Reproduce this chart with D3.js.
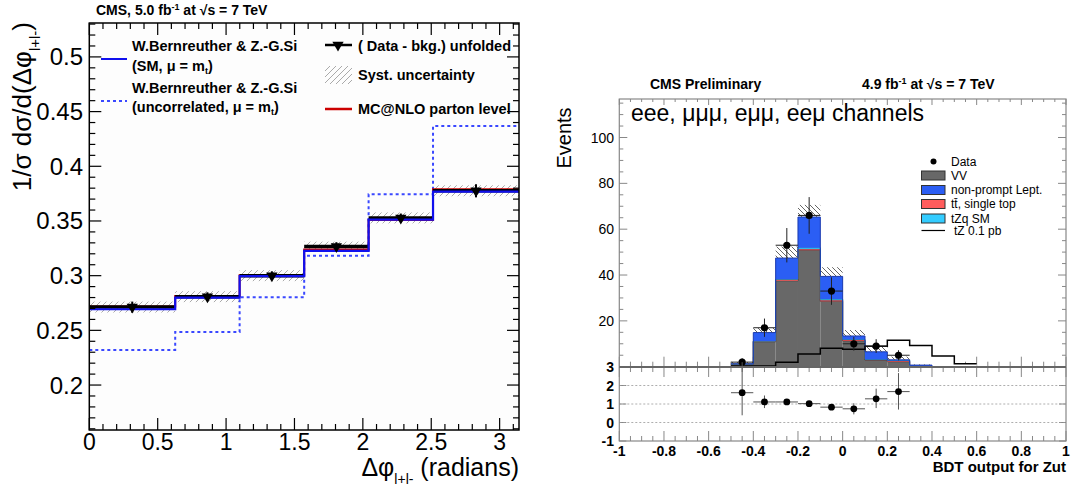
<!DOCTYPE html>
<html><head><meta charset="utf-8">
<script src="https://cdn.jsdelivr.net/npm/d3@7"></script>
<style>
body{margin:0;background:#fff;}
svg{display:block;font-family:"Liberation Sans",Arial,Helvetica,sans-serif;}
</style></head><body>
<svg id="c" width="1073" height="496"></svg>
<script>
// ===== Left panel data (Δφ of leptons) =====
const phiEdges = [0, 0.628, 1.099, 1.571, 2.042, 2.513, 3.1416];
const dataUnfolded = [0.2713, 0.2808, 0.3000, 0.3266, 0.3528, 0.3776];
const dataStatErr = [0.005, 0.004, 0.004, 0.004, 0.004, 0.006];
const dataSystErr = [0.005, 0.005, 0.005, 0.0045, 0.005, 0.005];
const smCorrelated = [0.2693, 0.2800, 0.2995, 0.3226, 0.3513, 0.3769];
const smUncorrelated = [0.2321, 0.2485, 0.2802, 0.3183, 0.3744, 0.4369];
const mcAtNlo = [0.2718, 0.2815, 0.3004, 0.3240, 0.3508, 0.3790];
const leftYTicks = [0.2, 0.25, 0.3, 0.35, 0.4, 0.45, 0.5];
const leftYLabels = ["0.2", "0.25", "0.3", "0.35", "0.4", "0.45", "0.5"];
const leftXTicks = [0, 0.5, 1, 1.5, 2, 2.5, 3];
const leftXLabels = ["0", "0.5", "1", "1.5", "2", "2.5", "3"];

// ===== Right panel data (BDT output) =====
const bdtEdges = [-0.5, -0.4, -0.3, -0.2, -0.1, 0, 0.1, 0.2, 0.3, 0.4, 0.5, 0.6];
const vv        = [1.0, 10.9, 37.5, 50.8, 28.5, 11.3, 2.9, 2.2, 0.3, 0, 0];
const ttSingle  = [0.1, 0.2, 0.5, 0.5, 0.5, 0.4, 0.2, 0.4, 0, 0, 0];
const tzqSM     = [0.05, 0.1, 0.2, 0.6, 0.5, 0.2, 0.1, 0.1, 0, 0, 0];
const nonPrompt = [0.1, 3.7, 9.2, 13.4, 9.9, 1.5, 3.3, 0.3, 0.4, 0, 0];
const mcSystErr = [0.8, 2.0, 5.0, 5.3, 4.0, 2.6, 2.2, 1.4, 0.3, 0, 0];
const tz01pb    = [0.3, 0.3, 1.9, 5.5, 8.1, 7.6, 8.9, 11.5, 9.2, 4.65, 1.3];
const dataX     = [-0.45, -0.35, -0.25, -0.15, -0.05, 0.05, 0.15, 0.25];
const dataN     = [2, 17, 53, 66, 33, 10, 9, 5];
const dataErrUp = [1.7, 4.0, 7.5, 8.0, 6.0, 3.0, 3.0, 2.2];
const dataErrDn = [1.3, 4.0, 7.5, 8.0, 6.0, 3.0, 3.0, 2.2];
const ratioVal   = [1.61, 1.11, 1.11, 1.02, 0.83, 0.74, 1.28, 1.67];
const ratioErrUp = [1.65, 0.35, 0.13, 0.13, 0.15, 0.30, 0.55, 1.00];
const ratioErrDn = [1.22, 0.33, 0.13, 0.13, 0.15, 0.30, 0.50, 0.97];
const rightYTicks = [20, 40, 60, 80, 100];
const ratioYTicks = [3, 2, 1, 0, -1];
const rightXTicks = [-1, -0.8, -0.6, -0.4, -0.2, 0, 0.2, 0.4, 0.6, 0.8, 1];
const rightXLabels = ["-1", "-0.8", "-0.6", "-0.4", "-0.2", "0", "0.2", "0.4", "0.6", "0.8", "1"];

const svg = d3.select("#c");
const defs = svg.append("defs");
defs.append("pattern").attr("id", "hatchL").attr("patternUnits", "userSpaceOnUse")
  .attr("width", 6).attr("height", 6)
  .append("path").attr("d", "M-1,1 l2,-2 M0,6 l6,-6 M5,7 l2,-2")
  .attr("stroke", "#aaa").attr("stroke-width", 1);
defs.append("pattern").attr("id", "hatchR").attr("patternUnits", "userSpaceOnUse")
  .attr("width", 5).attr("height", 5)
  .append("path").attr("d", "M-1,4 l2,2 M0,0 l5,5 M4,-1 l2,2")
  .attr("stroke", "#555").attr("stroke-width", 0.9);

function stepPts(edges, vals) {
  return edges.map((e, i) => [e, vals[Math.min(i, vals.length - 1)]]);
}

// ================= LEFT PANEL =================
const xL = d3.scaleLinear().domain([0, Math.PI]).range([89.3, 519]);
const yL = d3.scaleLinear().domain([0.1589, 0.531]).range([430, 23]);
const gL = svg.append("g");
gL.append("rect").attr("x", xL(0)).attr("y", yL.range()[1])
  .attr("width", xL(Math.PI) - xL(0)).attr("height", yL.range()[0] - yL.range()[1]).attr("fill", "#fdfdfd");

const lineL = d3.line().x(d => xL(d[0])).y(d => yL(d[1])).curve(d3.curveStepAfter);
gL.selectAll("rect.syst").data(dataUnfolded).join("rect")
  .attr("x", (d, i) => xL(phiEdges[i])).attr("width", (d, i) => xL(phiEdges[i + 1]) - xL(phiEdges[i]))
  .attr("y", (d, i) => yL(d + dataSystErr[i])).attr("height", (d, i) => yL(d - dataSystErr[i]) - yL(d + dataSystErr[i]))
  .attr("fill", "url(#hatchL)");
gL.append("path").attr("d", lineL(stepPts(phiEdges, smUncorrelated)))
  .attr("fill", "none").attr("stroke", "#3a48ff").attr("stroke-width", 2).attr("stroke-dasharray", "3,3");
gL.append("path").attr("d", lineL(stepPts(phiEdges, mcAtNlo)))
  .attr("fill", "none").attr("stroke", "#cc0000").attr("stroke-width", 2);
gL.selectAll("line.dat").data(dataUnfolded).join("line")
  .attr("x1", (d, i) => xL(phiEdges[i])).attr("x2", (d, i) => xL(phiEdges[i + 1]))
  .attr("y1", d => yL(d)).attr("y2", d => yL(d)).attr("stroke", "#000").attr("stroke-width", 3.5);
gL.append("path").attr("d", lineL(stepPts(phiEdges, smCorrelated)))
  .attr("fill", "none").attr("stroke", "#1010ee").attr("stroke-width", 2.2);
gL.selectAll("line.err").data(dataUnfolded).join("line")
  .attr("x1", (d, i) => xL((phiEdges[i] + phiEdges[i + 1]) / 2)).attr("x2", (d, i) => xL((phiEdges[i] + phiEdges[i + 1]) / 2))
  .attr("y1", (d, i) => yL(d + dataStatErr[i])).attr("y2", (d, i) => yL(d - dataStatErr[i]))
  .attr("stroke", "#000").attr("stroke-width", 2);
const tri = d3.symbol().type(d3.symbolTriangle).size(55);
gL.selectAll("path.mk").data(dataUnfolded).join("path")
  .attr("d", tri).attr("fill", "#000")
  .attr("transform", (d, i) => `translate(${xL((phiEdges[i] + phiEdges[i + 1]) / 2)},${yL(d)}) rotate(180)`);

// frame + ticks
gL.append("rect").attr("x", xL(0)).attr("y", yL.range()[1])
  .attr("width", xL(Math.PI) - xL(0)).attr("height", yL.range()[0] - yL.range()[1])
  .attr("fill", "none").attr("stroke", "#000").attr("stroke-width", 1.5);
const tkL = gL.append("g").attr("stroke", "#000").attr("stroke-width", 1.2);
d3.range(0.16, 0.5305, 0.01).forEach(v => {
  const maj = leftYTicks.some(t => Math.abs(t - v) < 1e-6);
  const len = maj ? 12 : 6;
  tkL.append("line").attr("x1", xL(0)).attr("x2", xL(0) + len).attr("y1", yL(v)).attr("y2", yL(v));
  tkL.append("line").attr("x1", xL(Math.PI)).attr("x2", xL(Math.PI) - len).attr("y1", yL(v)).attr("y2", yL(v));
});
d3.range(0, 3.14, 0.1).forEach(v => {
  const maj = leftXTicks.some(t => Math.abs(t - v) < 1e-6);
  const len = maj ? 12 : 6;
  tkL.append("line").attr("x1", xL(v)).attr("x2", xL(v)).attr("y1", yL.range()[0]).attr("y2", yL.range()[0] - len);
  tkL.append("line").attr("x1", xL(v)).attr("x2", xL(v)).attr("y1", yL.range()[1]).attr("y2", yL.range()[1] + len);
});
gL.selectAll("text.yl").data(leftYTicks).join("text")
  .attr("x", 83).attr("y", d => yL(d) + 8.5).attr("text-anchor", "end")
  .attr("font-size", 24).text((d, i) => leftYLabels[i]);
gL.selectAll("text.xl").data(leftXTicks).join("text")
  .attr("x", d => xL(d)).attr("y", 450).attr("text-anchor", "middle")
  .attr("font-size", 23).text((d, i) => leftXLabels[i]);

// axis titles
const xt = gL.append("text").attr("x", 519).attr("y", 476).attr("text-anchor", "end").attr("font-size", 25);
xt.append("tspan").text("Δφ");
xt.append("tspan").attr("font-size", 14).attr("dy", 8).text("l+l-");
xt.append("tspan").attr("dy", -8).text(" (radians)");
const yt = gL.append("text").attr("transform", "translate(31,22) rotate(-90)").attr("text-anchor", "end").attr("font-size", 26);
yt.append("tspan").text("1/σ dσ/d(Δφ");
yt.append("tspan").attr("font-size", 15).attr("dy", 9).text("l+l-");
yt.append("tspan").attr("dy", -9).text(")");

// title
const tl = gL.append("text").attr("x", 96).attr("y", 15).attr("font-size", 14).attr("font-weight", "bold");
tl.append("tspan").text("CMS, 5.0 fb");
tl.append("tspan").attr("font-size", 9).attr("dy", -5).text("-1");
tl.append("tspan").attr("dy", 5).text(" at  √s = 7 TeV");

// legend left
const lg = gL.append("g").attr("font-size", 14.5).attr("font-weight", "bold");
lg.append("line").attr("x1", 101).attr("x2", 127).attr("y1", 59).attr("y2", 59).attr("stroke", "#1010ee").attr("stroke-width", 2);
lg.append("text").attr("x", 132).attr("y", 51).text("W.Bernreuther & Z.-G.Si");
const l2 = lg.append("text").attr("x", 132).attr("y", 71);
l2.append("tspan").text("(SM, μ = m"); l2.append("tspan").attr("font-size", 9).attr("dy", 3).text("t"); l2.append("tspan").attr("dy", -3).text(")");
lg.append("line").attr("x1", 101).attr("x2", 127).attr("y1", 101).attr("y2", 101).attr("stroke", "#3a48ff").attr("stroke-width", 2).attr("stroke-dasharray", "3,3");
lg.append("text").attr("x", 132).attr("y", 93).text("W.Bernreuther & Z.-G.Si");
const l4 = lg.append("text").attr("x", 132).attr("y", 112);
l4.append("tspan").text("(uncorrelated, μ = m"); l4.append("tspan").attr("font-size", 9).attr("dy", 3).text("t"); l4.append("tspan").attr("dy", -3).text(")");
lg.append("line").attr("x1", 325).attr("x2", 352).attr("y1", 45).attr("y2", 45).attr("stroke", "#000").attr("stroke-width", 2.5);
lg.append("path").attr("d", tri).attr("transform", "translate(338,45) rotate(180)").attr("fill", "#000");
lg.append("text").attr("x", 358).attr("y", 51).text("( Data - bkg.) unfolded");
lg.append("rect").attr("x", 325).attr("y", 66).attr("width", 27).attr("height", 18).attr("fill", "url(#hatchL)");
lg.append("text").attr("x", 358).attr("y", 80).text("Syst. uncertainty");
lg.append("line").attr("x1", 325).attr("x2", 352).attr("y1", 109).attr("y2", 109).attr("stroke", "#cc0000").attr("stroke-width", 2.5);
lg.append("text").attr("x", 358).attr("y", 114).text("MC@NLO parton level");

// ================= RIGHT PANEL =================
const xR = d3.scaleLinear().domain([-1, 1]).range([619.3, 1066]);
const yR = d3.scaleLinear().domain([0, 116.8]).range([366.7, 99]);
const yRat = d3.scaleLinear().domain([-1, 3]).range([441, 367]);
const gR = svg.append("g");
defs.append("clipPath").attr("id", "clipMain").append("rect")
  .attr("x", xR(-1)).attr("y", yR(116.8)).attr("width", xR(1) - xR(-1)).attr("height", yR(0) - yR(116.8));

const axisCol = "#888";
const tkR = gR.append("g").attr("stroke", axisCol).attr("stroke-width", 1);
d3.range(0, 116, 5).forEach(v => {
  const len = (v % 20 === 0) ? 8 : 4;
  tkR.append("line").attr("x1", xR(-1)).attr("x2", xR(-1) + len).attr("y1", yR(v)).attr("y2", yR(v));
  tkR.append("line").attr("x1", xR(1)).attr("x2", xR(1) - len).attr("y1", yR(v)).attr("y2", yR(v));
});
d3.range(-1, 1.001, 0.05).forEach(v => {
  const maj = rightXTicks.some(t => Math.abs(t - v) < 1e-6);
  const len = maj ? 10 : 5;
  tkR.append("line").attr("x1", xR(v)).attr("x2", xR(v)).attr("y1", yR(0)).attr("y2", yR(0) - len);
  tkR.append("line").attr("x1", xR(v)).attr("x2", xR(v)).attr("y1", yR(116.8)).attr("y2", yR(116.8) + len * 0.6);
  tkR.append("line").attr("x1", xR(v)).attr("x2", xR(v)).attr("y1", yRat(3)).attr("y2", yRat(3) + len);
  tkR.append("line").attr("x1", xR(v)).attr("x2", xR(v)).attr("y1", yRat(-1)).attr("y2", yRat(-1) - len);
});
ratioYTicks.forEach(v => {
  tkR.append("line").attr("x1", xR(-1)).attr("x2", xR(-1) + 7).attr("y1", yRat(v)).attr("y2", yRat(v));
  tkR.append("line").attr("x1", xR(1)).attr("x2", xR(1) - 7).attr("y1", yRat(v)).attr("y2", yRat(v));
});

const mainG = gR.append("g").attr("clip-path", "url(#clipMain)");
const lineR = d3.line().x(d => xR(d[0])).y(d => yR(d[1])).curve(d3.curveStepAfter);
const areaR = d3.area().x(d => xR(d[0])).y0(yR(0)).y1(d => yR(d[1])).curve(d3.curveStepAfter);
mainG.append("path").attr("d", areaR(stepPts(bdtEdges, tz01pb))).attr("fill", "#fff");

const rows = vv.map((v, i) => ({ vv: v, tt: ttSingle[i], tzq: tzqSM[i], np: nonPrompt[i], i }));
const stack = d3.stack().keys(["vv", "tt", "tzq", "np"])(rows);
const fills = { vv: "#686868", tt: "#ff5c5c", tzq: "#33ccff", np: "#2b5ef4" };
const strokes = { vv: "#3c3c3c", tt: "#b02020", tzq: "#1a88aa", np: "#1a3ab0" };
stack.forEach(layer => {
  mainG.selectAll(null).data(layer).join("rect")
    .attr("x", d => xR(bdtEdges[d.data.i])).attr("width", d => xR(bdtEdges[d.data.i + 1]) - xR(bdtEdges[d.data.i]))
    .attr("y", d => yR(d[1])).attr("height", d => Math.max(0, yR(d[0]) - yR(d[1])))
    .attr("fill", fills[layer.key]);
  mainG.append("path").attr("d", lineR(stepPts(bdtEdges, layer.map(d => d[1]))))
    .attr("fill", "none").attr("stroke", strokes[layer.key]).attr("stroke-width", 1);
});
const totals = stack[stack.length - 1].map(d => d[1]);
mainG.selectAll("rect.sy").data(totals).join("rect")
  .attr("x", (d, i) => xR(bdtEdges[i])).attr("width", (d, i) => xR(bdtEdges[i + 1]) - xR(bdtEdges[i]))
  .attr("y", (d, i) => yR(d + mcSystErr[i])).attr("height", (d, i) => yR(d) - yR(d + mcSystErr[i]))
  .attr("fill", "url(#hatchR)");
mainG.append("path").attr("d", lineR(stepPts(bdtEdges, tz01pb)))
  .attr("fill", "none").attr("stroke", "#000").attr("stroke-width", 1.5);
mainG.selectAll("line.dx").data(dataN).join("line")
  .attr("x1", (d, i) => xR(dataX[i] - 0.05)).attr("x2", (d, i) => xR(dataX[i] + 0.05))
  .attr("y1", d => yR(d)).attr("y2", d => yR(d)).attr("stroke", "#222").attr("stroke-width", 1);
mainG.selectAll("line.dy").data(dataN).join("line")
  .attr("x1", (d, i) => xR(dataX[i])).attr("x2", (d, i) => xR(dataX[i]))
  .attr("y1", (d, i) => yR(d + dataErrUp[i])).attr("y2", (d, i) => yR(d - dataErrDn[i]))
  .attr("stroke", "#222").attr("stroke-width", 1);
mainG.selectAll("circle.dp").data(dataN).join("circle")
  .attr("cx", (d, i) => xR(dataX[i])).attr("cy", d => yR(d)).attr("r", 3.6).attr("fill", "#000");

[2, 1, 0].forEach(v => gR.append("line").attr("x1", xR(-1)).attr("x2", xR(1)).attr("y1", yRat(v)).attr("y2", yRat(v))
  .attr("stroke", "#999").attr("stroke-width", 0.8).attr("stroke-dasharray", "2,2"));
gR.selectAll("line.rx").data(ratioVal).join("line")
  .attr("x1", (d, i) => xR(dataX[i] - 0.05)).attr("x2", (d, i) => xR(dataX[i] + 0.05))
  .attr("y1", d => yRat(d)).attr("y2", d => yRat(d)).attr("stroke", "#555").attr("stroke-width", 1);
gR.selectAll("line.ry").data(ratioVal).join("line")
  .attr("x1", (d, i) => xR(dataX[i])).attr("x2", (d, i) => xR(dataX[i]))
  .attr("y1", (d, i) => yRat(d + ratioErrUp[i])).attr("y2", (d, i) => yRat(d - ratioErrDn[i]))
  .attr("stroke", "#555").attr("stroke-width", 1);
gR.selectAll("circle.rp").data(ratioVal).join("circle")
  .attr("cx", (d, i) => xR(dataX[i])).attr("cy", d => yRat(d)).attr("r", 3.4).attr("fill", "#000");

gR.append("rect").attr("x", xR(-1)).attr("y", yR(116.8)).attr("width", xR(1) - xR(-1)).attr("height", yRat(-1) - yR(116.8))
  .attr("fill", "none").attr("stroke", axisCol).attr("stroke-width", 1.2);
gR.append("line").attr("x1", xR(-1)).attr("x2", xR(1)).attr("y1", yRat(3)).attr("y2", yRat(3))
  .attr("stroke", "#666").attr("stroke-width", 2);

gR.selectAll("text.ry").data(rightYTicks).join("text")
  .attr("x", 614).attr("y", d => yR(d) + 5).attr("text-anchor", "end").attr("font-size", 14).text(d => d);
gR.selectAll("text.rr").data(ratioYTicks).join("text")
  .attr("x", 614).attr("y", d => yRat(d) + 5).attr("text-anchor", "end").attr("font-size", 14)
  .attr("font-weight", "bold").text(d => d);
gR.selectAll("text.rx").data(rightXTicks).join("text")
  .attr("x", d => xR(d)).attr("y", 456).attr("text-anchor", "middle").attr("font-size", 14)
  .attr("font-weight", "bold").text((d, i) => rightXLabels[i]);
gR.append("text").attr("x", 1066).attr("y", 472).attr("text-anchor", "end").attr("font-size", 15)
  .attr("font-weight", "bold").text("BDT output for Zut");
gR.append("text").attr("transform", "translate(571,138) rotate(-90)").attr("text-anchor", "middle")
  .attr("font-size", 20).text("Events");
gR.append("text").attr("x", 650).attr("y", 89).attr("font-size", 14).attr("font-weight", "bold").text("CMS Preliminary");
const t2 = gR.append("text").attr("x", 862).attr("y", 89).attr("font-size", 14).attr("font-weight", "bold");
t2.append("tspan").text("4.9 fb"); t2.append("tspan").attr("font-size", 9).attr("dy", -5).text("-1");
t2.append("tspan").attr("dy", 5).text(" at √s = 7 TeV");
gR.append("text").attr("x", 631).attr("y", 121).attr("font-size", 23).text("eee, μμμ, eμμ, eeμ channels");

const lr = gR.append("g").attr("font-size", 12);
lr.append("circle").attr("cx", 933.5).attr("cy", 161.5).attr("r", 3).attr("fill", "#000");
lr.append("text").attr("x", 951).attr("y", 165.5).text("Data");
const legItems = [["VV", "vv", 171], ["non-prompt Lept.", "np", 185.5], ["tt̄, single top", "tt", 199.5], ["tZq SM", "tzq", 214]];
legItems.forEach(([lab, key, y]) => {
  lr.append("rect").attr("x", 921.5).attr("y", y).attr("width", 23.5).attr("height", 9)
    .attr("fill", fills[key]).attr("stroke", "#333").attr("stroke-width", 1);
  lr.append("text").attr("x", 951).attr("y", y + 8.5).text(lab);
});
lr.append("line").attr("x1", 921.5).attr("x2", 945).attr("y1", 230.5).attr("y2", 230.5).attr("stroke", "#000").attr("stroke-width", 1.2);
lr.append("text").attr("x", 954).attr("y", 235).text("tZ 0.1 pb");
</script>
</body></html>
